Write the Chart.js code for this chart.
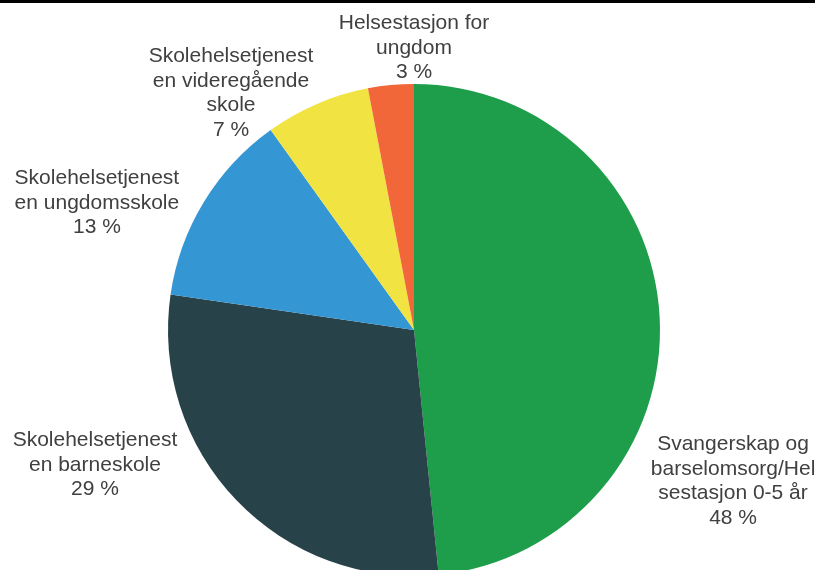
<!DOCTYPE html>
<html>
<head>
<meta charset="utf-8">
<script src="https://cdn.jsdelivr.net/npm/chart.js"></script>
<style>
    html, body { margin: 0; padding: 0; background: #fff; overflow: hidden; }
    #wrap { position: relative; width: 815px; height: 660px; }
    #topline { position: absolute; left: 0; top: 0; width: 815px; height: 3px; background: #000; z-index: 2; }
</style>
</head>
<body>
<div id="wrap">
    <div id="topline"></div>
    <canvas id="pieChart" width="815" height="660"></canvas>
</div>
<script>
// Categories (wrapped as in the original) and shares in percent
const categories = [
    ['Svangerskap og', 'barselomsorg/Hel', 'sestasjon 0-5 år'],
    ['Skolehelsetjenest', 'en barneskole'],
    ['Skolehelsetjenest', 'en ungdomsskole'],
    ['Skolehelsetjenest', 'en videregående', 'skole'],
    ['Helsestasjon for', 'ungdom']
];
const shares = [48.4, 28.9, 12.8, 6.9, 3.0];
const sliceColors = ['#1e9e4b', '#284249', '#3596d4', '#f0e342', '#f2673a'];

// Label block centres, relative to pie centre, in units of the radius
const labelOffsets = [
    [1.297, 0.614],
    [-1.297, 0.549],
    [-1.289, -0.516],
    [-0.744, -0.962],
    [0, -1.146]
];

const pieLabels = {
    id: 'pieLabels',
    afterDatasetsDraw(chart) {
        const ctx = chart.ctx;
        const arc = chart.getDatasetMeta(0).data[0];
        const cx = arc.x, cy = arc.y, r = arc.outerRadius;
        const lineH = 24.6;
        ctx.save();
        ctx.font = '21px "Liberation Sans", Arial, sans-serif';
        ctx.fillStyle = '#404040';
        ctx.textAlign = 'center';
        ctx.textBaseline = 'middle';
        categories.forEach((lines, i) => {
            const all = lines.concat([Math.round(shares[i]) + ' %']);
            const x = cx + labelOffsets[i][0] * r;
            const y0 = cy + labelOffsets[i][1] * r - (all.length - 1) * lineH / 2;
            all.forEach((t, j) => ctx.fillText(t, x, y0 + j * lineH));
        });
        ctx.restore();
    }
};

new Chart(document.getElementById('pieChart'), {
    type: 'pie',
    data: {
        labels: categories.map(c => c.join(' ')),
        datasets: [{
            data: shares,
            backgroundColor: sliceColors,
            borderWidth: 0
        }]
    },
    options: {
        responsive: false,
        animation: false,
        layout: { padding: { top: 84, bottom: 84, left: 168, right: 155 } },
        plugins: {
            legend: { display: false },
            tooltip: { enabled: false }
        }
    },
    plugins: [pieLabels]
});
</script>
</body>
</html>
